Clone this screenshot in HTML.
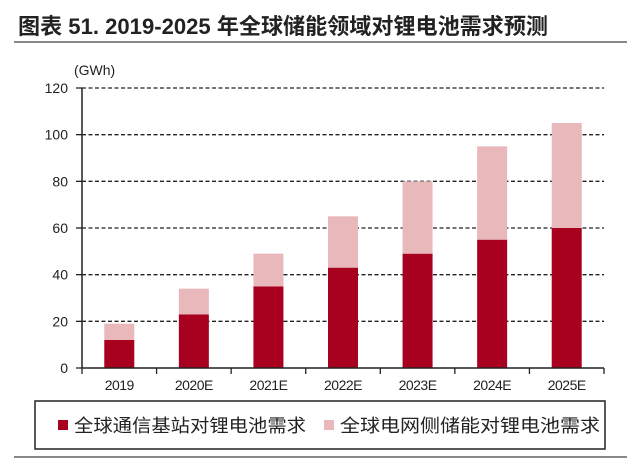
<!DOCTYPE html>
<html><head><meta charset="utf-8"><style>
body{margin:0;background:#fff;width:640px;height:462px;overflow:hidden;font-family:"Liberation Sans","Noto Sans CJK SC",sans-serif}
</style></head><body>
<svg width="640" height="462" xmlns="http://www.w3.org/2000/svg">
<text x="18" y="34" font-size="22" font-weight="bold" fill="#222" textLength="530" lengthAdjust="spacingAndGlyphs" font-family="Liberation Sans,Noto Sans CJK SC,sans-serif">图表 51. 2019-2025 年全球储能领域对锂电池需求预测</text>
<line x1="14" y1="42" x2="627" y2="42" stroke="#888" stroke-width="2"/>
<text x="74" y="75" font-size="14" fill="#222">(GWh)</text>
<g id="grid"></g><g id="bars"></g><g id="axes"></g>
<rect x="35" y="401" width="570" height="48" fill="none" stroke="#222" stroke-width="1.5"/>
<rect x="58" y="420" width="10" height="10" fill="#a8001f"/>
<text x="74" y="432" font-size="18" fill="#222" textLength="232" lengthAdjust="spacingAndGlyphs">全球通信基站对锂电池需求</text>
<rect x="324" y="420" width="10" height="10" fill="#e8b8bb"/>
<text x="340" y="432" font-size="18" fill="#222" textLength="260" lengthAdjust="spacingAndGlyphs">全球电网侧储能对锂电池需求</text>
<line x1="14" y1="457" x2="627" y2="457" stroke="#888" stroke-width="2"/>
</svg>
<script>
const categories=["2019","2020E","2021E","2022E","2023E","2024E","2025E"];
const telecom=[12,23,35,43,49,55,60];
const gridStorage=[7,11,14,22,31,40,45];
const yTicks=[0,20,40,60,80,100,120];
const NS="http://www.w3.org/2000/svg";
const x0=82,x1=604,y0=368,yTop=88,yMax=120;
const step=(x1-x0)/categories.length;
const y=v=>y0-(v/yMax)*(y0-yTop);
const xc=i=>x0+step*(i+0.5);
function mk(tag,attrs,parent){const e=document.createElementNS(NS,tag);for(const k in attrs)e.setAttribute(k,attrs[k]);parent.appendChild(e);return e;}
const G=document.getElementById('grid'),B=document.getElementById('bars'),A=document.getElementById('axes');
yTicks.forEach(t=>{
 if(t>0){const l=mk('line',{x1:x0,x2:x1,y1:y(t),y2:y(t),stroke:'#222','stroke-width':1.3,'stroke-dasharray':'4 2.5'},G);
 
 }
 const tk=mk('line',{x1:x0-6,x2:x0,y1:y(t),y2:y(t),stroke:'#222','stroke-width':1.3},A);
 
 
 const tx=mk('text',{x:x0-14,y:y(t)+5,'font-size':14,'text-anchor':'end',fill:'#222'},A);tx.textContent=t;
 
 
});
const bw=30;
categories.forEach((c,i)=>{
 const b1=mk('rect',{x:xc(i)-bw/2,y:y(telecom[i]),width:bw,height:y0-y(telecom[i]),fill:'#a8001f'},B);
 
 
 const tot=telecom[i]+gridStorage[i];
 const b2=mk('rect',{x:xc(i)-bw/2,y:y(tot),width:bw,height:y(telecom[i])-y(tot),fill:'#e8b8bb'},B);
 
 
 const tx=mk('text',{x:xc(i),y:y0+22,'font-size':14,'text-anchor':'middle',fill:'#222','letter-spacing':'-0.5'},A);tx.textContent=c;
 
 
});
for(let i=0;i<=categories.length;i++){
 const tk=mk('line',{x1:x0+step*i,x2:x0+step*i,y1:y0,y2:y0+6,stroke:'#222','stroke-width':1.3},A);
 
 
}
const ya=mk('line',{x1:x0,x2:x0,y1:yTop,y2:y0,stroke:'#222','stroke-width':1.5},A);


const xa=mk('line',{x1:x0,x2:x1,y1:y0,y2:y0,stroke:'#222','stroke-width':1.5},A);


</script>
</body></html>
